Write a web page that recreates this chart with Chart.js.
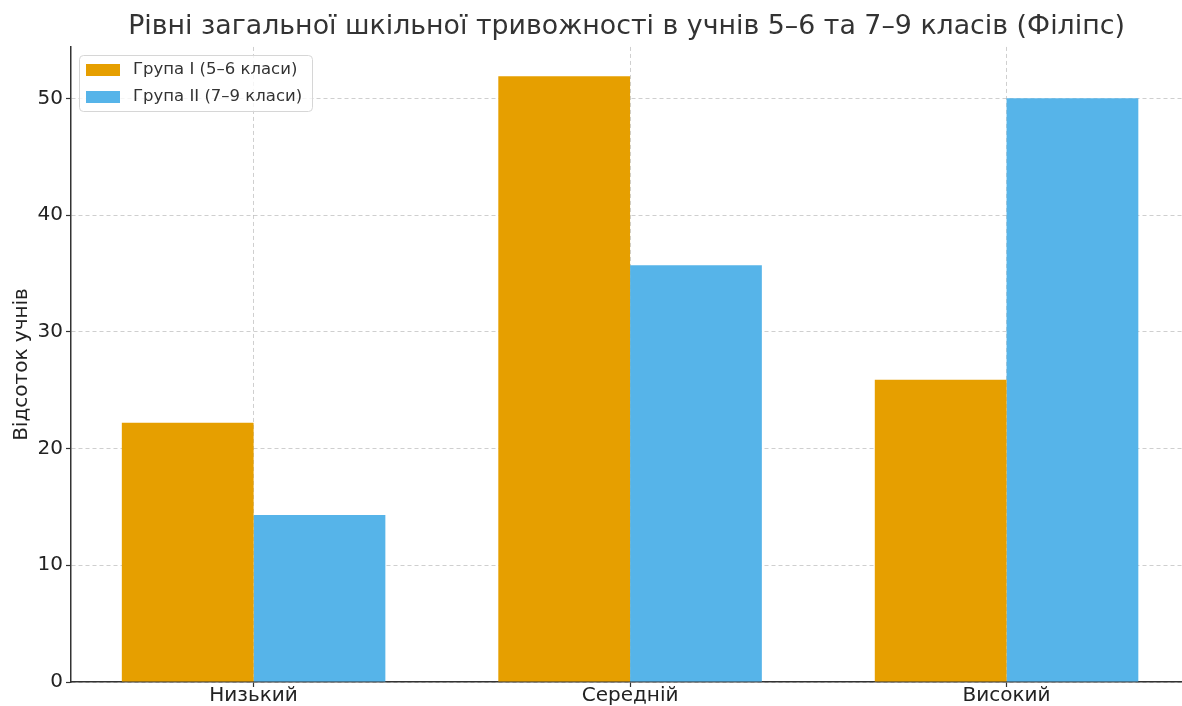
<!DOCTYPE html>
<html>
<head>
<meta charset="utf-8">
<script src="https://cdn.jsdelivr.net/npm/chart.js@4.4.1/dist/chart.umd.min.js"></script>
<style>
    html, body { margin: 0; padding: 0; background: #fff; overflow: hidden; }
    canvas { display: block; }
</style>
</head>
<body>
<canvas id="chart" width="1182" height="706"></canvas>
<script>
    'use strict';

    const categories = ['Низький', 'Середній', 'Високий'];
    const groupOne = [22.2, 51.9, 25.9];
    const groupTwo = [14.3, 35.7, 50.0];
    const seriesLabels = ['Група I (5–6 класи)', 'Група II (7–9 класи)'];
    const yTicks = [0, 10, 20, 30, 40, 50];

    const FONT = '"DejaVu Sans", sans-serif';
    const gridColor = 'rgba(160,160,160,0.5)';

    let toPoints = function (values) {
        return values.map(function (v, i) {
            return {x: i, y: v};
        });
    };

    // matplotlib-like legend box in the top-left corner of the plot
    let legendBox = {
        id: 'legendBox',
        afterDraw: function (chart) {
            let ctx = chart.ctx,
                x = 79, y = 55, w = 233, h = 56, r = 4;

            ctx.save();
            ctx.beginPath();
            ctx.roundRect(x + 0.5, y + 0.5, w, h, r);
            ctx.fillStyle = 'rgba(255,255,255,0.8)';
            ctx.fill();
            ctx.strokeStyle = '#d6d6d6';
            ctx.lineWidth = 1;
            ctx.stroke();

            ctx.font = '16.5px ' + FONT;
            ctx.textBaseline = 'middle';
            chart.data.datasets.forEach(function (ds, i) {
                let cy = 70 + i * 27;
                ctx.fillStyle = ds.backgroundColor;
                ctx.fillRect(86, cy - 6, 34, 12);
                ctx.fillStyle = '#333333';
                ctx.fillText(ds.label, 133, cy);
            });
            ctx.restore();
        }
    };

    new Chart(document.getElementById('chart'), {
        type: 'bar',
        data: {
            datasets: [{
                label: seriesLabels[0],
                data: toPoints(groupOne),
                backgroundColor: '#E69F00'
            }, {
                label: seriesLabels[1],
                data: toPoints(groupTwo),
                backgroundColor: '#56B4E9'
            }]
        },
        options: {
            responsive: false,
            animation: false,
            devicePixelRatio: 1,
            layout: {padding: {left: 0, right: 0, top: 0, bottom: 0}},
            datasets: {
                bar: {categoryPercentage: 0.7, barPercentage: 1.0}
            },
            plugins: {
                legend: {display: false},
                tooltip: {enabled: false},
                title: {
                    display: true,
                    fullSize: false,
                    text: 'Рівні загальної шкільної тривожності в учнів 5–6 та 7–9 класів (Філіпс)',
                    color: '#333333',
                    font: {family: FONT, size: 26.8, weight: 'normal', lineHeight: 1.2},
                    padding: {top: 11, bottom: 3.8}
                }
            },
            scales: {
                x: {
                    type: 'linear',
                    offset: false,
                    min: -0.485,
                    max: 2.466,
                    z: 1,
                    afterBuildTicks: function (scale) {
                        scale.ticks = categories.map(function (c, i) {
                            return {value: i};
                        });
                    },
                    afterFit: function (scale) {
                        scale.height = 24;
                    },
                    ticks: {
                        callback: function (v) {
                            return categories[v];
                        },
                        color: '#222222',
                        font: {family: FONT, size: 20},
                        padding: -3,
                        maxRotation: 0,
                        autoSkip: false
                    },
                    grid: {
                        offset: false,
                        color: gridColor,
                        lineWidth: 1,
                        tickLength: 5,
                        tickColor: '#333333',
                        tickWidth: 1.2
                    },
                    border: {display: true, color: '#333333', width: 1.5, dash: [4, 3]}
                },
                y: {
                    min: 0,
                    max: 54.4,
                    z: 1,
                    afterBuildTicks: function (scale) {
                        scale.ticks = yTicks.map(function (v) {
                            return {value: v};
                        });
                    },
                    afterFit: function (scale) {
                        scale.width = 71;
                    },
                    ticks: {
                        color: '#222222',
                        font: {family: FONT, size: 20},
                        padding: 3
                    },
                    grid: {
                        color: gridColor,
                        lineWidth: 1,
                        tickLength: 5,
                        tickColor: '#333333',
                        tickWidth: 1.2
                    },
                    border: {display: true, color: '#333333', width: 1.5, dash: [4, 3]},
                    title: {
                        display: true,
                        text: 'Відсоток учнів',
                        color: '#222222',
                        font: {family: FONT, size: 20},
                        padding: {top: 10, bottom: 0}
                    }
                }
            }
        },
        plugins: [legendBox]
    });
</script>
</body>
</html>
